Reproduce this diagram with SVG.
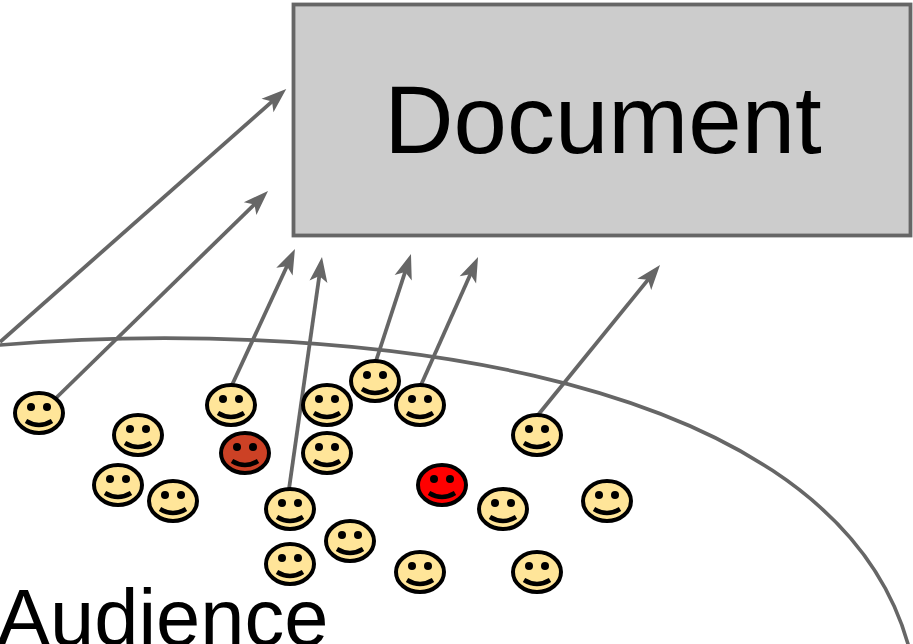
<svg xmlns="http://www.w3.org/2000/svg" width="913" height="644" viewBox="0 0 913 644">
<style>
.l{fill:none;stroke:#666;stroke-width:3.6;stroke-linecap:round}
.a{fill:none;stroke:#666;stroke-width:3.8;marker-end:url(#h)}
.f{stroke:#000;stroke-width:4}
.s{fill:none;stroke:#000;stroke-width:4.500}
text{font-family:"Liberation Sans",Arial,sans-serif;fill:#000}
</style>
<defs>
<marker id="h" markerUnits="userSpaceOnUse" markerWidth="30" markerHeight="30" refX="18" refY="10" viewBox="0 0 30 30" orient="auto" overflow="visible"><path d="M25 10L0 1L6 10L0 19Z" fill="#666"/></marker>
<g id="eyes"><circle cx="-8" cy="-6" r="4"/><circle cx="8" cy="-6" r="4"/><path class="s" d="M-13 8Q0 16 13 8"/></g>
</defs>
<rect x="0" y="0" width="913" height="644" fill="#fff"/>
<g id="document"><rect x="293.500" y="4.500" width="617" height="231" fill="#ccc" stroke="#666" stroke-width="3.800"/><text x="603" y="153" font-size="96" text-anchor="middle">Document</text></g>
<g id="audience"><path class="l" d="M0 345C295 320 825 352 908 644"/><text x="-3" y="645" font-size="79.500">Audience</text></g>
<g id="connectors">
<path class="a" d="M0 342L281 93.600"/>
<path class="a" d="M56 398L263 196"/>
<path class="a" d="M232 385L292 255.300"/>
<path class="a" d="M289 489L321 264"/>
<path class="a" d="M376 361L408.800 260.700"/>
<path class="a" d="M421 385L475.200 263.400"/>
<path class="a" d="M538 415L655.600 270.400"/>
</g>
<g id="p1" transform="translate(39 413)"><ellipse class="f" rx="24" ry="20" fill="#ffe599"/><use href="#eyes"/></g>
<g id="p2" transform="translate(138 435)"><ellipse class="f" rx="24" ry="20" fill="#ffe599"/><use href="#eyes"/></g>
<g id="p3" transform="translate(118 485)"><ellipse class="f" rx="24" ry="20" fill="#ffe599"/><use href="#eyes"/></g>
<g id="p4" transform="translate(173 501)"><ellipse class="f" rx="24" ry="20" fill="#ffe599"/><use href="#eyes"/></g>
<g id="p5" transform="translate(231 405)"><ellipse class="f" rx="24" ry="20" fill="#ffe599"/><use href="#eyes"/></g>
<g id="p6" transform="translate(245 453)"><ellipse class="f" rx="24" ry="20" fill="#cc4125"/><use href="#eyes"/></g>
<g id="p7" transform="translate(327 405)"><ellipse class="f" rx="24" ry="20" fill="#ffe599"/><use href="#eyes"/></g>
<g id="p8" transform="translate(327 453)"><ellipse class="f" rx="24" ry="20" fill="#ffe599"/><use href="#eyes"/></g>
<g id="p9" transform="translate(375 381)"><ellipse class="f" rx="24" ry="20" fill="#ffe599"/><use href="#eyes"/></g>
<g id="p10" transform="translate(420 405)"><ellipse class="f" rx="24" ry="20" fill="#ffe599"/><use href="#eyes"/></g>
<g id="p11" transform="translate(290 509)"><ellipse class="f" rx="24" ry="20" fill="#ffe599"/><use href="#eyes"/></g>
<g id="p12" transform="translate(350 541)"><ellipse class="f" rx="24" ry="20" fill="#ffe599"/><use href="#eyes"/></g>
<g id="p13" transform="translate(290 564)"><ellipse class="f" rx="24" ry="20" fill="#ffe599"/><use href="#eyes"/></g>
<g id="p14" transform="translate(420 572)"><ellipse class="f" rx="24" ry="20" fill="#ffe599"/><use href="#eyes"/></g>
<g id="p15" transform="translate(537 435)"><ellipse class="f" rx="24" ry="20" fill="#ffe599"/><use href="#eyes"/></g>
<g id="p16" transform="translate(442 485)"><ellipse class="f" rx="24" ry="20" fill="#f00"/><use href="#eyes"/></g>
<g id="p17" transform="translate(503 509)"><ellipse class="f" rx="24" ry="20" fill="#ffe599"/><use href="#eyes"/></g>
<g id="p18" transform="translate(607 501)"><ellipse class="f" rx="24" ry="20" fill="#ffe599"/><use href="#eyes"/></g>
<g id="p19" transform="translate(537 572)"><ellipse class="f" rx="24" ry="20" fill="#ffe599"/><use href="#eyes"/></g>
</svg>
